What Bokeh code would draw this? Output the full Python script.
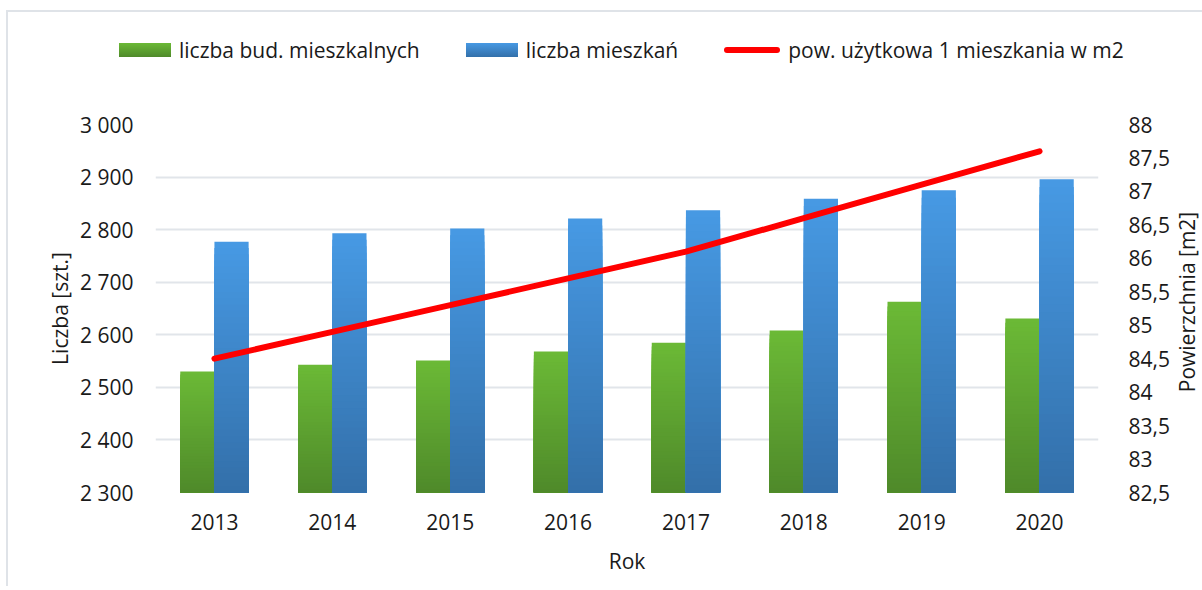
from bokeh.plotting import figure
from bokeh.layouts import column
from bokeh.models import (ColumnDataSource, FactorRange, Range1d, LinearAxis, FixedTicker,
                          CustomJSTickFormatter, Div)
from bokeh.transform import dodge
from bokeh.embed import file_html
from bokeh.resources import INLINE

# ---------------- data ----------------
years = ["2013", "2014", "2015", "2016", "2017", "2018", "2019", "2020"]
buildings = [2530, 2543, 2551, 2568, 2585, 2608, 2663, 2631]      # liczba bud. mieszkalnych
dwellings = [2777, 2793, 2802, 2821, 2837, 2859, 2875, 2896]      # liczba mieszkań
area = [84.5, 84.9, 85.3, 85.7, 86.1, 86.6, 87.1, 87.6]           # pow. użytkowa 1 mieszkania w m2

left_ticks = [2300, 2400, 2500, 2600, 2700, 2800, 2900, 3000]
left_labels = ["2 300", "2 400", "2 500", "2 600", "2 700", "2 800", "2 900", "3 000"]
right_ticks = [82.5, 83, 83.5, 84, 84.5, 85, 85.5, 86, 86.5, 87, 87.5, 88]
right_labels = ["82,5", "83", "83,5", "84", "84,5", "85", "85,5", "86", "86,5", "87", "87,5", "88"]

label_green = "liczba bud. mieszkalnych"
label_blue = "liczba mieszkań"
label_red = "pow. użytkowa 1 mieszkania w m2"
title_left = "Liczba [szt.]"
title_right = "Powierzchnia [m2]"
title_x = "Rok"

BASE = 2300
FONT = "Open Sans"
TXT = "#1a1a1a"
GREEN_TOP, GREEN_BOT = "#6bb936", "#4f8a2a"
BLUE_TOP, BLUE_BOT = "#4799e3", "#3370aa"
RED = "#ff0000"


def mix(c1, c2, t):
    a = [int(c1[i:i + 2], 16) for i in (1, 3, 5)]
    b = [int(c2[i:i + 2], 16) for i in (1, 3, 5)]
    return "#%02x%02x%02x" % tuple(round(a[j] + (b[j] - a[j]) * t) for j in range(3))


def gradient_source(values, top_color, bottom_color, n=40):
    xs, tops, colors = [], [], []
    for k in range(n):
        frac = 1 - k / n
        col = mix(top_color, bottom_color, k / (n - 1))
        for yr, v in zip(years, values):
            xs.append(yr)
            tops.append(BASE + (v - BASE) * frac)
            colors.append(col)
    return ColumnDataSource(dict(x=xs, top=tops, color=colors))


W = 1194
LEG_H = 98

# ---------------- legend strip (top) + right axis title overlay ----------------
def patch(css):
    return f'<span style="display:inline-block;flex:none;{css}"></span>'

def lab(text):
    return f'<span style="margin-left:8px">{text}</span>'

gap = '<span style="display:inline-block;width:46px;flex:none"></span>'

legend_html = (
    f'<div style="position:relative;width:{W}px;height:{LEG_H}px;font-family:\'{FONT}\';'
    f'font-size:21px;color:{TXT};overflow:visible;">'
    '<div style="position:absolute;left:111px;top:24px;height:28px;display:flex;'
    'align-items:center;white-space:nowrap;line-height:28px;">'
    + patch(f"width:52px;height:14px;background:linear-gradient({GREEN_TOP},{GREEN_BOT});")
    + lab(label_green) + gap
    + patch(f"width:52px;height:14px;background:linear-gradient({BLUE_TOP},{BLUE_BOT});")
    + lab(label_blue) + gap
    + patch(f"width:56px;height:6px;border-radius:3px;background:{RED};")
    + lab(label_red)
    + '</div>'
    '<div style="position:absolute;left:1179px;top:290px;z-index:10;white-space:nowrap;'
    'line-height:24px;transform:translate(-50%,-50%) rotate(-90deg);">'
    + title_right + '</div>'
    '</div>'
)
leg = Div(text=legend_html, width=W, height=LEG_H, margin=(0, 0, 0, 0),
          styles={"overflow": "visible", "z-index": "10"})

# ---------------- main chart ----------------
p = figure(x_range=FactorRange(*years), y_range=Range1d(2300, 3000),
           width=W, height=476, output_backend="svg", toolbar_location=None,
           min_border_left=147, min_border_right=104, min_border_top=14, min_border_bottom=94,
           margin=(0, 0, 0, 0))
p.outline_line_color = None
p.background_fill_color = "white"
p.border_fill_alpha = 0
p.extra_y_ranges = {"right": Range1d(82.5, 88)}

WIDTH = 0.29
g_r = p.vbar(x=dodge("x", -WIDTH / 2, range=p.x_range), top="top", bottom=BASE, width=WIDTH,
             source=gradient_source(buildings, GREEN_TOP, GREEN_BOT),
             fill_color="color", line_color=None)
b_r = p.vbar(x=dodge("x", WIDTH / 2, range=p.x_range), top="top", bottom=BASE, width=WIDTH,
             source=gradient_source(dwellings, BLUE_TOP, BLUE_BOT),
             fill_color="color", line_color=None)
l_r = p.line(x=years, y=area, y_range_name="right", line_color=RED, line_width=6,
             line_cap="round", line_join="round")

p.xgrid.grid_line_color = None
p.ygrid.grid_line_color = "#e1e5ea"
p.ygrid.grid_line_width = 2
p.ygrid.ticker = FixedTicker(ticks=left_ticks)

JS = "const i = tvals.indexOf(tick); return i >= 0 ? tlabels[i] : '';"


def style_axis(ax):
    ax.axis_line_color = None
    ax.major_tick_line_color = None
    ax.minor_tick_line_color = None
    ax.major_tick_out = 0
    ax.major_tick_in = 0
    ax.major_label_text_font = FONT
    ax.major_label_text_font_size = "21px"
    ax.major_label_text_color = TXT
    ax.axis_label_text_font = FONT
    ax.axis_label_text_font_size = "21px"
    ax.axis_label_text_font_style = "normal"
    ax.axis_label_text_color = TXT


xa = p.xaxis[0]
style_axis(xa)
xa.axis_label = title_x
xa.major_label_standoff = 21
xa.axis_label_standoff = 14

ya = p.yaxis[0]
style_axis(ya)
ya.axis_label = title_left
ya.ticker = FixedTicker(ticks=left_ticks)
ya.formatter = CustomJSTickFormatter(args=dict(tvals=left_ticks, tlabels=left_labels), code=JS)
ya.major_label_standoff = 22
ya.axis_label_standoff = 3

ra = LinearAxis(y_range_name="right")
style_axis(ra)
ra.ticker = FixedTicker(ticks=right_ticks)
ra.formatter = CustomJSTickFormatter(args=dict(tvals=right_ticks, tlabels=right_labels), code=JS)
ra.major_label_standoff = 30
p.add_layout(ra, "right")

layout = column(leg, p, spacing=0)
layout.styles = {"border-left": "2px solid #dfe3e8", "border-top": "2px solid #dfe3e8",
                 "margin-top": "10px", "margin-left": "6px"}

open("out.html", "w").write(file_html(layout, INLINE))
